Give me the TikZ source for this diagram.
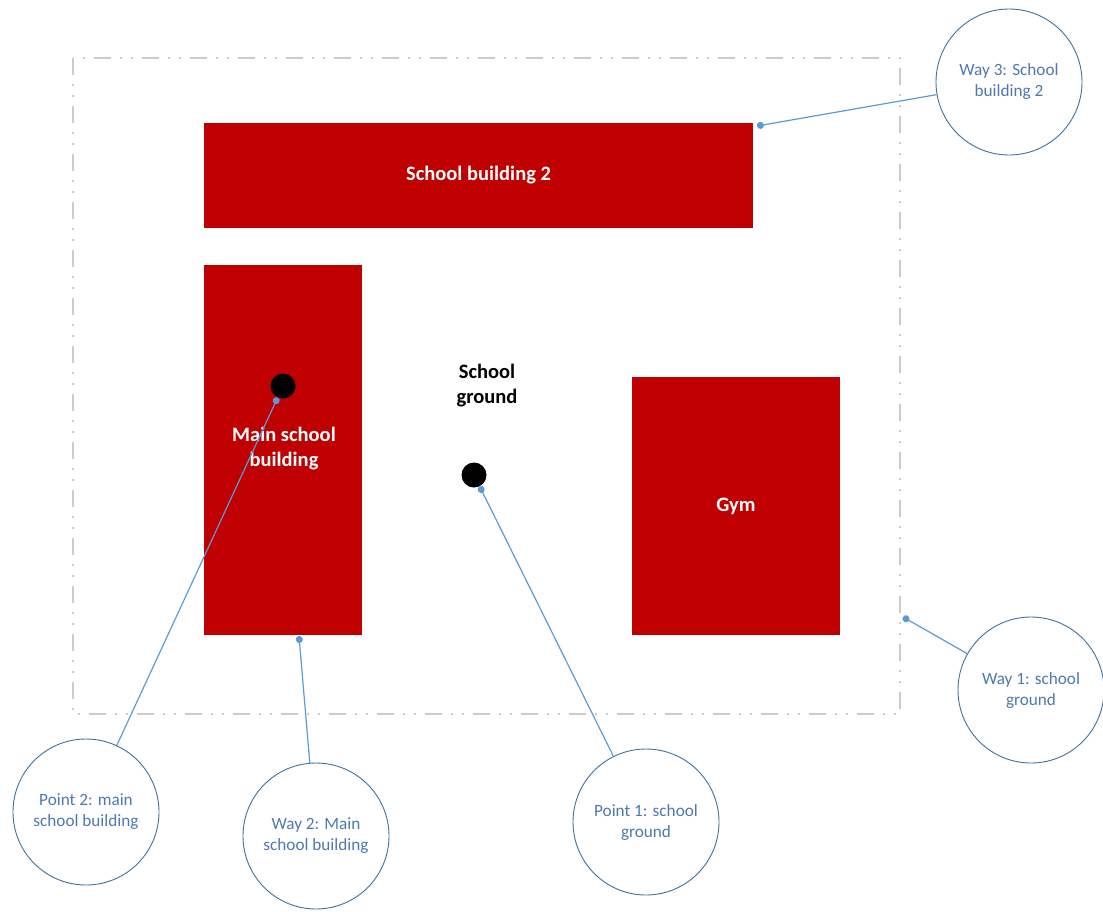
\documentclass[tikz,border=0pt]{standalone}
\usepackage{fontspec}
\setmainfont{Carlito}
\usetikzlibrary{arrows.meta}
\definecolor{brickred}{HTML}{C00000}
\definecolor{leaderblue}{HTML}{5B9BD5}
\definecolor{ringblue}{HTML}{41719C}
\definecolor{notetext}{HTML}{4E79B0}
\tikzstyle{building}=[rectangle, fill=brickred, inner sep=0pt, text=white, align=center, font=\fontsize{20.5}{25}\selectfont\bfseries]
\tikzstyle{spot}=[circle, fill=black, minimum size=25pt, inner sep=0pt]
\tikzstyle{callout}=[circle, draw=ringblue, line width=0.9pt, fill=white, minimum size=146pt, inner sep=0pt, align=center, text=notetext, font=\fontsize{17.2}{21}\selectfont]
\tikzstyle{leader}=[{Circle[length=7pt]}-, line width=1.2pt, leaderblue]
\tikzstyle{boundary}=[line width=2.8pt, gray!40, dash pattern=on 17pt off 9pt on 2pt off 9pt on 2pt off 9pt]

\begin{document}
\begin{tikzpicture}[x=1pt, y=-1pt]
    \useasboundingbox (0,0) rectangle (1103,911);

    % School area
    \draw[boundary] (73,58) rectangle (900,714);

    % Buildings
    \node[building, minimum width=549pt, minimum height=105pt] (bld2) at (478.5,175.5) {School building 2};
    \node[building, minimum width=158pt, minimum height=370pt] (main) at (283,450) {};
    \node[building, minimum width=208pt, minimum height=258pt] (gym) at (736,506) {Gym};
    \node[text=white, font=\fontsize{20.5}{25}\selectfont\bfseries, align=center] (mainlbl) at (284,449) {Main school\\building};
    \node[font=\fontsize{20.5}{25}\selectfont\bfseries, align=center] (ground) at (487,386) {School\\ground};

    % Points
    \node[spot] (p2) at (283,386) {};
    \node[spot] (p1) at (474,475) {};

    % Callouts
    \node[callout] (way3) at (1009,82) {Way 3: School\\building 2};
    \node[callout] (way1) at (1031,690) {Way 1: school\\ground};
    \node[callout] (pt2) at (86,812) {Point 2: main\\school building};
    \node[callout] (way2) at (316,836) {Way 2: Main\\school building};
    \node[callout] (pt1) at (646,822) {Point 1: school\\ground};

    % Leader ends
    \coordinate (w3end) at (757,126);
    \coordinate (w1end) at (903,617);
    \coordinate (w2end) at (299,636);

    % Leaders
    \draw[leader] (w3end) -- (way3);
    \draw[leader] (w1end) -- (way1);
    \draw[leader] (w2end) -- (way2);
    \draw[leader] (p2) -- (pt2);
    \draw[leader] (p1) -- (pt1);
\end{tikzpicture}
\end{document}
